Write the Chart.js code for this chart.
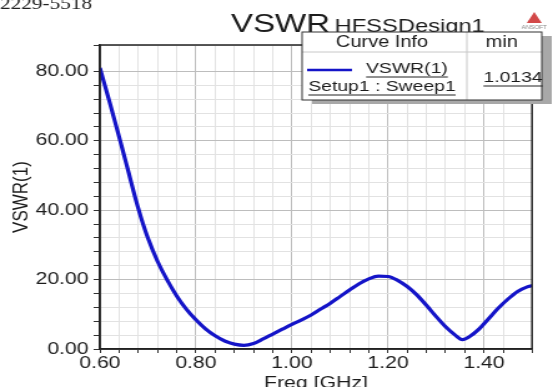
<!DOCTYPE html>
<html>
<head>
<meta charset="utf-8">
<script src="https://cdn.jsdelivr.net/npm/chart.js@4.4.0/dist/chart.umd.min.js"></script>
<style>
  html, body { margin: 0; padding: 0; background: #fff; overflow: hidden; }
  /* the reference picture is stretched sideways, so the chart is drawn narrow and widened */
  #wrap { width: 443px; height: 387px; transform: scaleX(1.2483); transform-origin: 0 0; }
</style>
</head>
<body>
<div id="wrap"><canvas id="vswrChart" width="443" height="387"></canvas></div>
<script>
// Frecuencias (GHz) y valores de VSWR
const freqGHz = [0.60, 0.62, 0.64, 0.66, 0.67, 0.68, 0.69, 0.70, 0.72, 0.74, 0.76, 0.78,
                 0.80, 0.82, 0.84, 0.86, 0.88, 0.90, 0.92, 0.94, 0.96, 0.98,
                 1.00, 1.02, 1.04, 1.06, 1.08, 1.10, 1.12, 1.14, 1.16, 1.18,
                 1.20, 1.22, 1.24, 1.26, 1.28, 1.30, 1.32, 1.34, 1.355, 1.37,
                 1.39, 1.41, 1.43, 1.45, 1.47, 1.49, 1.50];
const vswrValues = [81.0, 71.3, 61.2, 50.8, 45.5, 40.5, 36.0, 32.0, 25.3, 19.9, 15.3, 11.5,
                    8.4, 5.8, 3.8, 2.3, 1.4, 1.05, 1.6, 2.9, 4.3, 5.7,
                    7.1, 8.4, 9.8, 11.5, 13.2, 15.1, 17.0, 18.8, 20.2, 21.0,
                    20.9, 19.8, 18.0, 15.6, 12.6, 9.4, 6.4, 4.0, 2.7, 3.6,
                    5.8, 8.8, 11.8, 14.4, 16.6, 17.9, 18.3];

// Etiquetas de los ejes
const xTickLabels = ['0.60', '0.80', '1.00', '1.20', '1.40'];
const yTickLabels = ['0.00', '20.00', '40.00', '60.00', '80.00'];

// Tabla "Curve Info"
const curveName = 'VSWR(1)';
const curveSetup = 'Setup1 : Sweep1';
const curveMin = '1.0134';

const blue = '#1414c8';
const textColor = '#1c1c1c';

function labelFor(value, labels) {
    const found = labels.find(l => Math.abs(parseFloat(l) - value) < 1e-6);
    return found || '';
}

// Marco superior/derecho, título y tabla de leyenda
const decorations = {
    id: 'decorations',
    afterDatasetsDraw(chart) {
        const {ctx, chartArea} = chart;
        ctx.save();
        ctx.strokeStyle = '#222';
        ctx.lineWidth = 1.5;
        ctx.strokeRect(chartArea.left, chartArea.top, chartArea.right - chartArea.left, chartArea.bottom - chartArea.top);
        ctx.restore();
    },
    afterDraw(chart) {
        const ctx = chart.ctx;
        ctx.save();

        // texto cortado arriba a la izquierda
        ctx.fillStyle = '#222';
        ctx.font = '17px "Liberation Serif"';
        ctx.textBaseline = 'alphabetic';
        ctx.textAlign = 'left';
        ctx.fillText('2229-5518', 0, 9);

        // título
        ctx.fillStyle = textColor;
        ctx.font = '26.5px "Liberation Sans"';
        ctx.fillText('VSWR', 185, 32);
        ctx.font = '19px "Liberation Sans"';
        ctx.fillText('HFSSDesign1', 268, 32);

        // logo
        ctx.fillStyle = '#d24848';
        ctx.beginPath();
        ctx.moveTo(428, 12);
        ctx.lineTo(422, 23);
        ctx.lineTo(434, 23);
        ctx.closePath();
        ctx.fill();
        ctx.fillStyle = '#888';
        ctx.font = '5px "Liberation Sans"';
        ctx.textAlign = 'center';
        ctx.fillText('ANSOFT', 428, 29);

        // sombra y caja
        const L = 242, T = 32, R = 434, B = 100, D = 374, H = 52;
        ctx.fillStyle = '#a8a8a8';
        ctx.fillRect(L + 8, T + 4, R - L, B - T);
        ctx.fillStyle = '#fff';
        ctx.fillRect(L, T, R - L, B - T);
        ctx.strokeStyle = '#c8c8c8';
        ctx.lineWidth = 1;
        ctx.beginPath();
        ctx.moveTo(L, H); ctx.lineTo(R, H);
        ctx.moveTo(D, T); ctx.lineTo(D, B);
        ctx.stroke();
        ctx.strokeStyle = '#333';
        ctx.strokeRect(L, T, R - L, B - T);

        ctx.fillStyle = textColor;
        ctx.textAlign = 'center';
        ctx.textBaseline = 'middle';
        ctx.font = '16px "Liberation Sans"';
        ctx.fillText('Curve Info', 306, 43);
        ctx.fillText('min', 402, 43);

        ctx.strokeStyle = blue;
        ctx.lineWidth = 2.5;
        ctx.beginPath();
        ctx.moveTo(246, 70); ctx.lineTo(282, 70);
        ctx.stroke();

        const underlined = (text, cx, cy, font) => {
            ctx.font = font;
            ctx.fillText(text, cx, cy);
            const w = ctx.measureText(text).width;
            ctx.strokeStyle = '#222';
            ctx.lineWidth = 1;
            ctx.beginPath();
            ctx.moveTo(cx - w / 2, cy + 8); ctx.lineTo(cx + w / 2, cy + 8);
            ctx.stroke();
        };
        underlined(curveName, 326, 69, '15.5px "Liberation Sans"');
        underlined(curveSetup, 306, 87, '15.5px "Liberation Sans"');
        underlined(curveMin, 411, 78, '15.5px "Liberation Sans"');

        ctx.restore();
    }
};

const ctx = document.getElementById('vswrChart').getContext('2d');
const chart = new Chart(ctx, {
    type: 'line',
    data: {
        datasets: [{
            label: curveName,
            data: freqGHz.map((f, i) => ({x: f, y: vswrValues[i]})),
            borderColor: blue,
            borderWidth: 3.2,
            pointRadius: 0,
            fill: false,
            cubicInterpolationMode: 'monotone'
        }]
    },
    options: {
        responsive: false,
        devicePixelRatio: 1,
        animation: false,
        layout: { padding: { top: 45, right: 16.8, left: 0, bottom: 0 } },
        plugins: { legend: { display: false }, tooltip: { enabled: false }, title: { display: false } },
        scales: {
            x: {
                type: 'linear',
                min: 0.6,
                max: 1.5,
                afterFit: scale => { scale.height = 38; },
                ticks: {
                    stepSize: 0.04,
                    autoSkip: false,
                    maxRotation: 0,
                    padding: 0,
                    color: textColor,
                    font: { family: '"Liberation Sans"', size: 17 },
                    callback: v => labelFor(v, xTickLabels)
                },
                grid: {
                    color: c => (c.tick && labelFor(c.tick.value, xTickLabels)) ? '#bdbdbd' : '#e2e2e2',
                    tickColor: '#333',
                    tickLength: 4
                },
                border: { display: true, color: '#222', width: 1.5 },
                title: {
                    display: true,
                    text: 'Freq [GHz]',
                    color: textColor,
                    font: { family: '"Liberation Sans"', size: 17 },
                    padding: { top: 0, bottom: -7 }
                }
            },
            y: {
                min: 0,
                max: 87.6,
                afterFit: scale => { scale.width = 80; },
                ticks: {
                    stepSize: 4,
                    autoSkip: false,
                    padding: 4,
                    color: textColor,
                    font: { family: '"Liberation Sans"', size: 17 },
                    callback: v => labelFor(v, yTickLabels)
                },
                grid: {
                    color: c => (c.tick && labelFor(c.tick.value, yTickLabels)) ? '#bdbdbd' : '#e2e2e2',
                    tickColor: '#333',
                    tickLength: 5
                },
                border: { display: true, color: '#222', width: 1.5 },
                title: {
                    display: true,
                    text: 'VSWR(1)',
                    color: textColor,
                    font: { family: '"Liberation Sans"', size: 17 },
                    padding: { top: 7.5, bottom: 0 }
                }
            }
        }
    },
    plugins: [decorations]
});
</script>
</body>
</html>
